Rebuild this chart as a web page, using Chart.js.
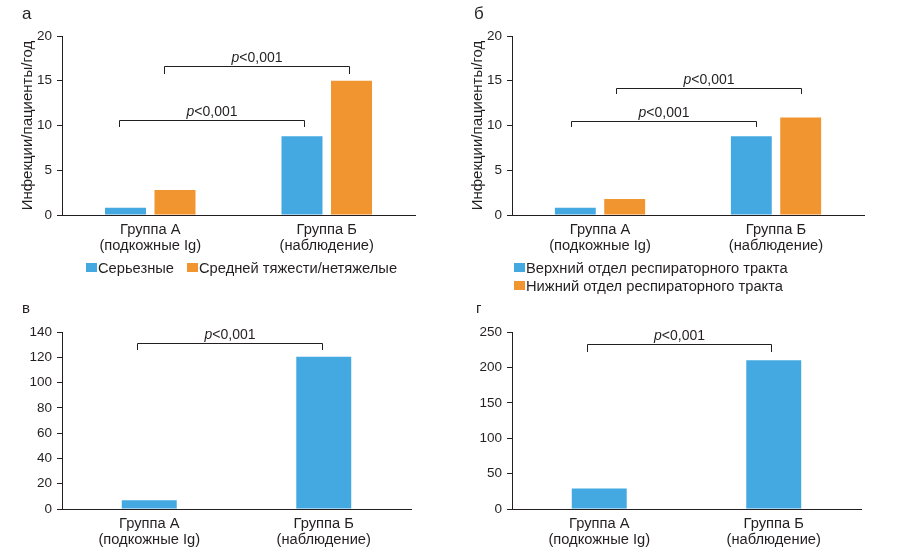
<!DOCTYPE html>
<html>
<head>
<meta charset="utf-8">
<script src="https://cdn.jsdelivr.net/npm/chart.js@4.4.0/dist/chart.umd.min.js"></script>
<style>
  html, body { margin: 0; padding: 0; background: #fff; }
  body { width: 898px; height: 554px; position: relative; overflow: hidden; }
  canvas { position: absolute; }
</style>
</head>
<body>
<canvas id="cA" width="449" height="295" style="left:0;top:0;width:449px;height:295px"></canvas>
<canvas id="cB" width="448" height="295" style="left:450px;top:0;width:448px;height:295px"></canvas>
<canvas id="cV" width="449" height="259" style="left:0;top:295px;width:449px;height:259px"></canvas>
<canvas id="cG" width="448" height="259" style="left:450px;top:295px;width:448px;height:259px"></canvas>
<script>
// ---------- DATA ----------
const categories = [['Группа А', '(подкожные Ig)'], ['Группа Б', '(наблюдение)']];

// Panel а
const seriesA1Label = 'Серьезные';
const seriesA1 = [0.8, 8.8];
const seriesA2Label = 'Средней тяжести/нетяжелые';
const seriesA2 = [2.8, 15];
const ticksA = [0, 5, 10, 15, 20];

// Panel б
const seriesB1Label = 'Верхний отдел респираторного тракта';
const seriesB1 = [0.8, 8.8];
const seriesB2Label = 'Нижний отдел респираторного тракта';
const seriesB2 = [1.8, 10.9];
const ticksB = [0, 5, 10, 15, 20];

// Panel в
const seriesV = [7, 120.5];
const ticksV = [0, 20, 40, 60, 80, 100, 120, 140];

// Panel г
const seriesG = [29, 210];
const ticksG = [0, 50, 100, 150, 200, 250];

// significance brackets: [fromIndex, toIndex, level, tip]
const bracketsA = [[-0.177, 0.871, 10.6, 9.8], [0.078, 1.126, 16.65, 15.8]];
const bracketsB = [[-0.165, 0.886, 10.5, 9.8], [0.091, 1.142, 14.2, 13.5]];
const bracketsV = [[-0.07, 0.99, 131.6, 126.1]];
const bracketsG = [[-0.07, 0.986, 233.7, 221.9]];
const pText = ['p', '<0,001'];

const yTitle = 'Инфекции/пациенты/год';

// ---------- STYLE ----------
const BLUE = '#45a9e1';
const ORANGE = '#f0952f';
const INK = '#231f20';
const FONT = "'Liberation Sans', Arial, Helvetica, sans-serif";
const LABEL_SIZE = 14.7;

const annotPlugin = {
  id: 'annot',
  afterDraw(chart, args, opts) {
    const ctx = chart.ctx;
    const xs = chart.scales.x, ys = chart.scales.y;
    ctx.save();
    ctx.fillStyle = INK;
    ctx.strokeStyle = INK;
    if (opts.letter) {
      ctx.font = opts.letterSize + 'px ' + FONT;
      ctx.textAlign = 'left';
      ctx.textBaseline = 'alphabetic';
      ctx.fillText(opts.letter, opts.letterX, opts.letterY);
    }
    (opts.brackets || []).forEach(b => {
      const x1 = Math.round(xs.getPixelForValue(b[0])) + 0.5;
      const x2 = Math.round(xs.getPixelForValue(b[1])) + 0.5;
      const yl = Math.round(ys.getPixelForValue(b[2])) + 0.5;
      const yt = Math.round(ys.getPixelForValue(b[3]));
      ctx.lineWidth = 1;
      ctx.beginPath();
      ctx.moveTo(x1, yt);
      ctx.lineTo(x1, yl);
      ctx.lineTo(x2, yl);
      ctx.lineTo(x2, yt);
      ctx.stroke();
      const fIt = 'italic 14px ' + FONT;
      const fNo = '14px ' + FONT;
      ctx.font = fIt; const w1 = ctx.measureText(pText[0]).width;
      ctx.font = fNo; const w2 = ctx.measureText(pText[1]).width;
      const cx = (x1 + x2) / 2;
      const sx = cx - (w1 + w2) / 2;
      const ty = yl - 5;
      ctx.textAlign = 'left';
      ctx.textBaseline = 'alphabetic';
      ctx.font = fIt; ctx.fillText(pText[0], sx, ty);
      ctx.font = fNo; ctx.fillText(pText[1], sx + w1, ty);
    });
    const lg = opts.legend;
    if (lg) {
      ctx.font = LABEL_SIZE + 'px ' + FONT;
      ctx.textAlign = 'left';
      ctx.textBaseline = 'alphabetic';
      let x = lg.x, y = lg.y;
      chart.data.datasets.forEach((ds, i) => {
        if (lg.rows && i > 0) { x = lg.x; y += lg.rowGap; }
        ctx.fillStyle = ds.backgroundColor;
        ctx.fillRect(x, y, 11, 9);
        ctx.fillStyle = INK;
        ctx.fillText(ds.label, x + 12, y + 9.5);
        x += 12 + ctx.measureText(ds.label).width + 13;
      });
    }
    ctx.restore();
  }
};

function makeChart(id, datasets, ticks, brackets, annot, withTitle, pad, barOpts) {
  const yMax = ticks[ticks.length - 1];
  const step = ticks[1] - ticks[0];
  return new Chart(document.getElementById(id), {
    type: 'bar',
    data: {
      labels: categories,
      datasets: datasets.map(d => Object.assign({
        borderWidth: 0,
        categoryPercentage: barOpts.cat,
        barPercentage: barOpts.bar
      }, d))
    },
    options: {
      responsive: false,
      animation: false,
      devicePixelRatio: 1,
      layout: { padding: pad },
      plugins: {
        legend: { display: false },
        tooltip: { enabled: false },
        annot: Object.assign({ brackets: brackets }, annot)
      },
      scales: {
        x: {
          offset: true,
          grid: { display: false, drawTicks: false },
          border: { display: true, color: INK, width: 1 },
          ticks: { color: INK, font: { family: FONT, size: LABEL_SIZE, lineHeight: 1.1 }, padding: 7, maxRotation: 0, autoSkip: false },
          afterFit(s) { s.height = 40; }
        },
        y: {
          min: 0, max: yMax,
          afterBuildTicks(s) { s.ticks = ticks.map(v => ({ value: v })); },
          grid: { display: true, drawOnChartArea: false, drawTicks: true, tickLength: 5, color: INK, lineWidth: 1 },
          border: { display: true, color: INK, width: 1 },
          ticks: { color: INK, font: { family: FONT, size: 13.5 }, padding: 5, stepSize: step },
          title: withTitle ? { display: true, text: yTitle, color: INK, font: { family: FONT, size: 15 }, padding: { top: 9, bottom: 0 } } : { display: false },
          afterFit(s) { s.width = 52; }
        }
      }
    },
    plugins: [annotPlugin]
  });
}

makeChart('cA',
  [{ label: seriesA1Label, data: seriesA1, backgroundColor: BLUE },
   { label: seriesA2Label, data: seriesA2, backgroundColor: ORANGE }],
  ticksA, bracketsA,
  { letter: 'а', letterX: 22, letterY: 19, letterSize: 17, legend: { x: 86, y: 263, rows: false } },
  true, { left: 10, right: 34, top: 36, bottom: 40 }, { cat: 0.561, bar: 0.828 });

makeChart('cB',
  [{ label: seriesB1Label, data: seriesB1, backgroundColor: BLUE },
   { label: seriesB2Label, data: seriesB2, backgroundColor: ORANGE }],
  ticksB, bracketsB,
  { letter: 'б', letterX: 24, letterY: 19, letterSize: 17, legend: { x: 64, y: 263, rows: true, rowGap: 18 } },
  true, { left: 10, right: 34, top: 36, bottom: 40 }, { cat: 0.561, bar: 0.828 });

makeChart('cV',
  [{ label: 'в', data: seriesV, backgroundColor: BLUE }],
  ticksV, bracketsV,
  { letter: 'в', letterX: 22, letterY: 18, letterSize: 15 },
  false, { left: 10, right: 38, top: 37, bottom: 5 }, { cat: 0.315, bar: 1 });

makeChart('cG',
  [{ label: 'г', data: seriesG, backgroundColor: BLUE }],
  ticksG, bracketsG,
  { letter: 'г', letterX: 26, letterY: 18, letterSize: 15 },
  false, { left: 10, right: 37, top: 37, bottom: 5 }, { cat: 0.315, bar: 1 });
</script>
</body>
</html>
